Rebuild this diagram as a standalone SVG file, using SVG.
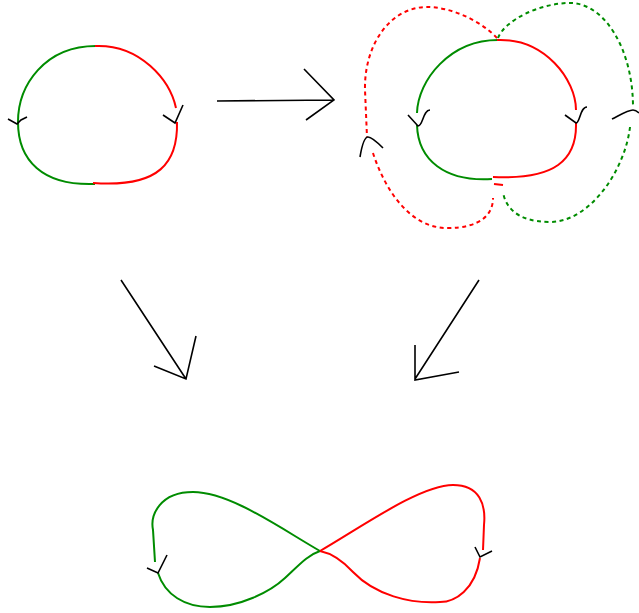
<svg xmlns="http://www.w3.org/2000/svg" width="639" height="613" viewBox="0 0 639 613">
<style>
.g{fill:none;stroke:#008c00;stroke-width:2}
.r{fill:none;stroke:#f00;stroke-width:2}
.d{stroke-dasharray:4 3.5}
.k{fill:none;stroke:#000;stroke-width:1.6;stroke-linejoin:miter}
</style>
<rect width="639" height="613" fill="#fff"/>
<g id="circle-left">
<path class="g" d="M96,46 C45,46 18,85 18,122 C18,160 42,186 95,184"/>
<path class="r" d="M95,46 C140,44 170,80 176,108"/>
<path class="r" d="M177,122 C178,162 160,188 93,183"/>
<path class="k" d="M8,119 L17,124 L21,120 L27,117"/>
<path class="k" d="M163,115 L175,123 L183,105"/>
</g>
<g id="circle-right">
<path class="r d" d="M497,38 C480,20 450,7 427,7 C390,7 364,45 365,90 L367,137"/>
<path class="r d" d="M373,153 C385,190 410,228 447,228 C480,228 493,215 493,198"/>
<path class="g d" d="M498,38 C505,20 540,3 570,3 C605,3 633,50 633,107"/>
<path class="g d" d="M630,127 C625,170 590,222 550,222 C515,222 505,205 503,192"/>
<path class="g" d="M498,40 C450,40 418,80 417,113"/>
<path class="g" d="M417,125 C418,160 445,182 492,179"/>
<path class="r" d="M497,40 C545,38 576,80 576,110"/>
<path class="r" d="M576,123 C577,160 555,180 493,177"/>
<path class="r" d="M494,184 L503,185"/>
<path class="k" d="M408,115 L418,126 C423,126 423,110 430,110"/>
<path class="k" d="M565,115 L576,123 C580,123 580,107 587,107"/>
<path class="k" d="M360,157 C362,145 365,137 368,137 C372,137 378,143 383,148"/>
<path class="k" d="M612,119 C620,115 628,110 633,110 C636,110 638,112 639,113"/>
</g>
<g id="figure-eight">
<path class="g" d="M320,551 C280,528 230,492 193,492 C160,492 150,515 153,530 L155,562"/>
<path class="g" d="M158,573 C165,595 185,607 210,607 C240,607 270,592 285,578 C300,564 308,555 320,551"/>
<path class="r" d="M320,551 C360,528 420,485 453,485 C480,485 486,505 484,525 L483,550"/>
<path class="r" d="M480,558 C475,590 455,602 440,602 C410,604 375,595 353,572 C340,558 330,553 320,551"/>
<path class="k" d="M147,568 L158,573 L167,555"/>
<path class="k" d="M475,547 L480,557 L492,551"/>
</g>
<g id="connectors" class="k">
<path d="M217,101 L334,100 M304,69 L334,100 L306,120"/>
<path d="M121,280 L186,379 M154,366 L186,379 L196,336"/>
<path d="M479,280 L415,379 M415,345 L415,380 L459,372"/>
</g>
</svg>
